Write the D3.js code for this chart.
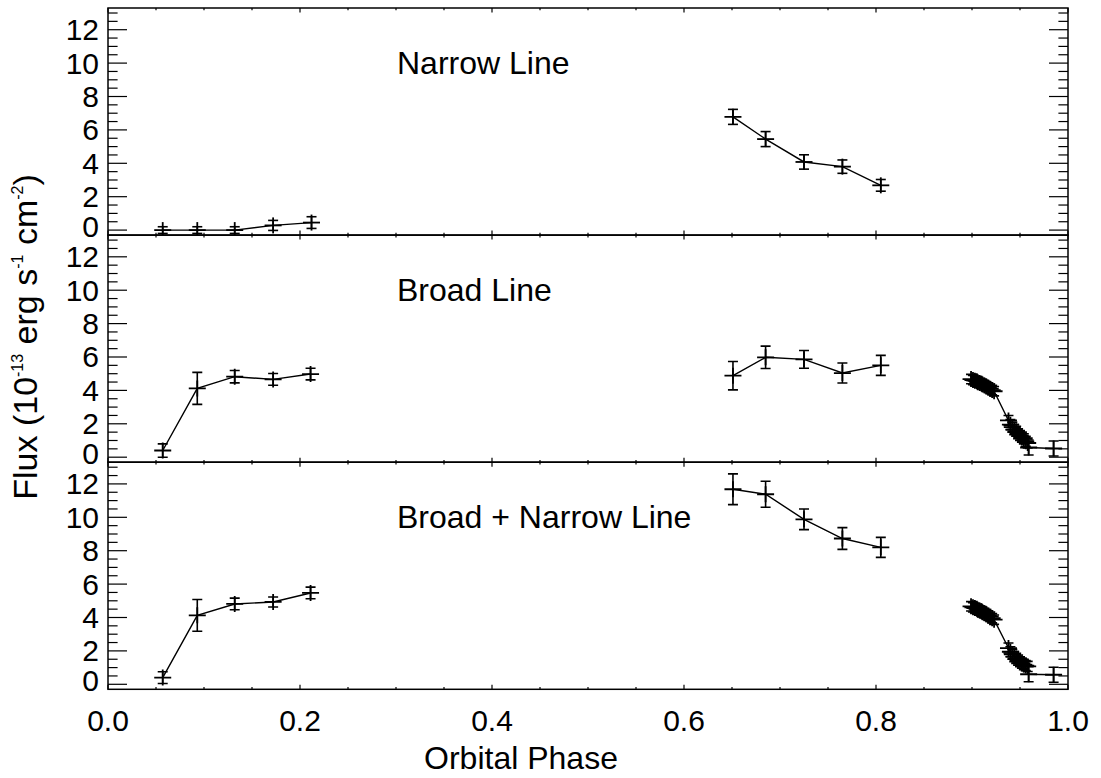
<!DOCTYPE html>
<html><head><meta charset="utf-8">
<script src="https://cdn.jsdelivr.net/npm/d3@7"></script>
<style>
body{margin:0;background:#fff}
text{font-family:"Liberation Sans",Arial,Helvetica,sans-serif;fill:#000}
</style>
</head><body>
<svg id="c" width="1101" height="778"></svg>
<script>
// ---- data ----
const panelTitles = ["Narrow Line", "Broad Line", "Broad + Narrow Line"];
const yTicks = [0, 2, 4, 6, 8, 10, 12];
const xTicks = [0.0, 0.2, 0.4, 0.6, 0.8, 1.0];

const narrowPhase = [0.057, 0.093, 0.132, 0.172, 0.212, 0.651, 0.685, 0.725, 0.765, 0.805];
const narrowFlux  = [0.0, 0.0, 0.0, 0.28, 0.45, 6.78, 5.45, 4.08, 3.80, 2.68];
const narrowErr   = [0.2, 0.2, 0.2, 0.3, 0.35, 0.45, 0.45, 0.43, 0.40, 0.35];

const broadPhase = [0.057, 0.093, 0.132, 0.172, 0.211, 0.651, 0.685, 0.725, 0.765, 0.805,
  0.899, 0.901, 0.903, 0.905, 0.906, 0.908, 0.910, 0.911, 0.913, 0.915, 0.917, 0.919, 0.921, 0.923,
  0.938, 0.940, 0.942, 0.944, 0.946, 0.948, 0.950, 0.952, 0.954, 0.956, 0.958, 0.959, 0.985];
const broadFlux = [0.40, 4.12, 4.82, 4.66, 4.98, 4.88, 5.98, 5.86, 5.04, 5.50,
  4.68, 4.62, 4.58, 4.55, 4.49, 4.45, 4.40, 4.36, 4.30, 4.24, 4.18, 4.10, 4.02, 3.95,
  2.20, 1.95, 1.80, 1.65, 1.55, 1.40, 1.30, 1.20, 1.10, 0.95, 0.85, 0.58, 0.52];
const broadErr = [0.40, 0.96, 0.37, 0.35, 0.35, 0.85, 0.67, 0.53, 0.60, 0.60,
  0.28, 0.28, 0.28, 0.28, 0.28, 0.28, 0.28, 0.28, 0.28, 0.28, 0.28, 0.28, 0.28, 0.28,
  0.30, 0.30, 0.30, 0.30, 0.30, 0.30, 0.30, 0.30, 0.30, 0.30, 0.30, 0.45, 0.45];

const totalPhase = [0.057, 0.093, 0.132, 0.172, 0.211, 0.651, 0.685, 0.725, 0.765, 0.805,
  0.899, 0.901, 0.903, 0.905, 0.906, 0.908, 0.910, 0.911, 0.913, 0.915, 0.917, 0.919, 0.921, 0.923,
  0.938, 0.940, 0.942, 0.944, 0.946, 0.948, 0.950, 0.952, 0.954, 0.956, 0.958, 0.959, 0.985];
const totalFlux = [0.40, 4.13, 4.81, 4.93, 5.47, 11.68, 11.38, 9.88, 8.73, 8.20,
  4.67, 4.61, 4.57, 4.53, 4.47, 4.42, 4.37, 4.32, 4.26, 4.20, 4.12, 4.05, 3.96, 3.87,
  2.17, 1.95, 1.80, 1.66, 1.55, 1.45, 1.35, 1.26, 1.18, 1.12, 1.07, 0.60, 0.57];
const totalErr = [0.35, 0.95, 0.35, 0.30, 0.35, 0.92, 0.78, 0.62, 0.65, 0.60,
  0.28, 0.28, 0.28, 0.28, 0.28, 0.28, 0.28, 0.28, 0.28, 0.28, 0.28, 0.28, 0.28, 0.28,
  0.30, 0.30, 0.30, 0.30, 0.30, 0.30, 0.30, 0.30, 0.30, 0.30, 0.30, 0.45, 0.45];

// ---- layout ----
const svg = d3.select("#c");
const left = 108, right = 1068, top0 = 8, panelH = 227.1;
const x = d3.scaleLinear().domain([0, 1]).range([left, right]);
const panels = [
  {title: panelTitles[0], ph: narrowPhase, fl: narrowFlux, er: narrowErr},
  {title: panelTitles[1], ph: broadPhase, fl: broadFlux, er: broadErr},
  {title: panelTitles[2], ph: totalPhase, fl: totalFlux, er: totalErr}
];
const FS = 30;
const ink = "#000";

panels.forEach((p, i) => {
  const pt = top0 + i * panelH, pb = pt + panelH;
  const y = d3.scaleLinear().domain([-0.3, 13.3]).range([pb, pt]);
  const g = svg.append("g");

  const cid = "clip" + i;
  svg.append("clipPath").attr("id", cid).append("rect")
    .attr("x", left).attr("y", pt).attr("width", right - left).attr("height", panelH);

  const yMinor = d3.range(0, 13.3, 0.5);
  yMinor.forEach(v => {
    const major = Math.abs(v / 2 - Math.round(v / 2)) < 1e-6;
    const len = major ? 19 : 9.6;
    g.append("line").attr("x1", left).attr("x2", left + len).attr("y1", y(v)).attr("y2", y(v))
      .attr("stroke", ink).attr("stroke-width", 1.2);
    g.append("line").attr("x1", right).attr("x2", right - len).attr("y1", y(v)).attr("y2", y(v))
      .attr("stroke", ink).attr("stroke-width", 1.2);
  });
  yTicks.forEach(v => {
    g.append("text").attr("x", 99).attr("y", y(v) + (v === 0 ? 7 : 10.5)).attr("text-anchor", "end")
      .attr("font-size", FS).text(v);
  });

  const xMinor = d3.range(0, 1.0001, 0.05);
  xMinor.forEach(v => {
    const major = Math.abs(v / 0.2 - Math.round(v / 0.2)) < 1e-6;
    const len = major ? 4.5 : 2.3;
    g.append("line").attr("x1", x(v)).attr("x2", x(v)).attr("y1", pb).attr("y2", pb - len)
      .attr("stroke", ink).attr("stroke-width", 1.2);
    g.append("line").attr("x1", x(v)).attr("x2", x(v)).attr("y1", pt).attr("y2", pt + len)
      .attr("stroke", ink).attr("stroke-width", 1.2);
  });

  g.append("rect").attr("x", left).attr("y", pt).attr("width", right - left).attr("height", panelH)
    .attr("fill", "none").attr("stroke", ink).attr("stroke-width", 1.5);

  g.append("text").attr("x", 397).attr("y", pt + 66).attr("font-size", 32).text(p.title);

  const d = g.append("g").attr("clip-path", `url(#${cid})`);
  const pts = p.ph.map((ph, k) => ({ph, f: p.fl[k], e: p.er[k]}));
  const segs = [];
  pts.forEach((q, k) => {
    if (k === 0 || q.ph - pts[k - 1].ph > 0.05) segs.push([]);
    segs[segs.length - 1].push(q);
  });
  const line = d3.line().x(q => x(q.ph)).y(q => y(q.f));
  segs.forEach(s => d.append("path").datum(s).attr("d", line).attr("fill", "none")
    .attr("stroke", ink).attr("stroke-width", 1.4));
  pts.forEach(q => {
    const cx = x(q.ph), cy = y(q.f), y1 = y(q.f + q.e), y2 = y(q.f - q.e);
    d.append("line").attr("x1", cx).attr("x2", cx).attr("y1", y1).attr("y2", y2).attr("stroke", ink).attr("stroke-width", 1.6);
    d.append("line").attr("x1", cx - 5).attr("x2", cx + 5).attr("y1", y1).attr("y2", y1).attr("stroke", ink).attr("stroke-width", 1.6);
    d.append("line").attr("x1", cx - 5).attr("x2", cx + 5).attr("y1", y2).attr("y2", y2).attr("stroke", ink).attr("stroke-width", 1.6);
    d.append("line").attr("x1", cx - 8.5).attr("x2", cx + 8.5).attr("y1", cy).attr("y2", cy).attr("stroke", ink).attr("stroke-width", 1.8);
    d.append("line").attr("x1", cx).attr("x2", cx).attr("y1", cy - 8).attr("y2", cy + 8).attr("stroke", ink).attr("stroke-width", 1.8);
  });

  if (i === 2) {
    xTicks.forEach(v => {
      svg.append("text").attr("x", x(v)).attr("y", 731).attr("text-anchor", "middle")
        .attr("font-size", FS).text(v.toFixed(1));
    });
  }
});

svg.append("text").attr("x", 521).attr("y", 769).attr("text-anchor", "middle")
  .attr("font-size", 32).text("Orbital Phase");

const yl = svg.append("text").attr("transform", "translate(37,337) rotate(-90)")
  .attr("text-anchor", "middle").attr("font-size", 34);
yl.append("tspan").text("Flux (10");
yl.append("tspan").attr("font-size", 16).attr("dy", -14).text("-13");
yl.append("tspan").attr("dy", 14).text(" erg s");
yl.append("tspan").attr("font-size", 16).attr("dy", -14).text("-1");
yl.append("tspan").attr("dy", 14).text(" cm");
yl.append("tspan").attr("font-size", 16).attr("dy", -14).text("-2");
yl.append("tspan").attr("dy", 14).text(")");
</script>
</body></html>
